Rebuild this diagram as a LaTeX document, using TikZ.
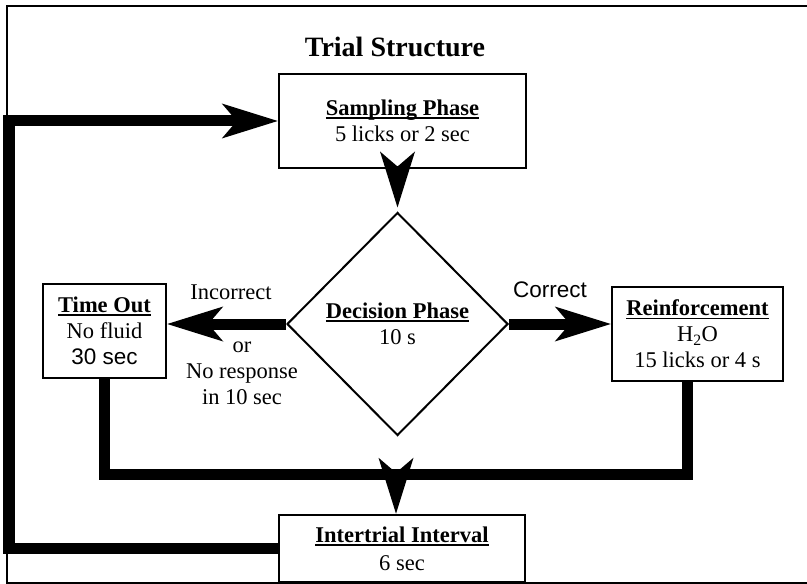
\documentclass[tikz,border=0pt]{standalone}
\usepackage{fontspec}
\setmainfont{Liberation Serif}
\newfontfamily\sansf{Liberation Sans}
\usetikzlibrary{arrows.meta,shapes.geometric}
\newcommand{\myul}[1]{\setbox0=\hbox{#1}\rlap{\rule[-3.5bp]{\wd0}{1.8bp}}\box0}
\begin{document}
\begin{tikzpicture}[x=1bp,y=-1bp,
  txt/.style={font=\fontsize{22.5bp}{26bp}\selectfont, align=center, inner sep=0pt},
  boxnode/.style={txt, draw, line width=2.5bp, rectangle, minimum height=94bp, fill=white},
  fatline/.style={line width=11bp, line join=miter, line cap=butt},
  bigtip/.style={-{Stealth[length=56bp,width=35bp,inset=15bp,line width=0pt]}},
  headonly/.style={line width=1bp, bigtip}]
\useasboundingbox (0,0) rectangle (807,584);
\draw[line width=1.5bp] (7,6) rectangle (812,583);

\node[txt, font=\fontsize{28bp}{30bp}\selectfont\bfseries] (title) at (395,47) {Trial Structure};

\node[boxnode, minimum width=247bp] (samp) at (402.5,121) {\myul{\bfseries Sampling Phase}\\5 licks or 2 sec};
\node[boxnode, minimum width=123bp] (tout) at (104.5,331) {\myul{\bfseries Time Out}\\No fluid\\{\sansf 30 sec}};
\node[boxnode, minimum width=171bp] (reinf) at (697.5,334) {\myul{\bfseries Reinforcement}\\H\textsubscript{2}O\\15 licks or 4 s};
\node[boxnode, minimum width=246bp, minimum height=67bp] (iti) at (402,548.5) {\myul{\bfseries Intertrial Interval}\\[2bp]6 sec};
\node[txt, draw, diamond, aspect=1, line width=2bp, minimum width=221bp, minimum height=223bp] (dec) at (397.5,324) {\myul{\bfseries Decision Phase}\\10 s};

\node[txt] (incl) at (231,292) {Incorrect};
\node[txt] (orl) at (242,373) {or\\No response\\in 10 sec};
\node[txt, font=\sansf\fontsize{22.5bp}{26bp}\selectfont] (corl) at (550,290) {Correct};

% connectors
\draw[headonly] (samp.south -| dec.north) -- ([yshift=4bp]dec.north);
\draw[fatline, bigtip] (dec.west) -- (dec.west -| tout.east);
\draw[fatline, bigtip] (dec.east) -- (dec.east -| reinf.west);

\coordinate (bl) at (104.5,474);
\coordinate (br) at (687,474);
\coordinate (bm) at (396,474);
\draw[fatline] (tout.south) -- (bl) -- (br) -- (br |- reinf.south);
\draw[headonly] (bm) -- (bm |- iti.north);

\coordinate (lb) at (9,548.5);
\coordinate (lt) at (9,121);
\draw[fatline, bigtip] (iti.west) -- (lb) -- (lt) -- (samp.west);
\end{tikzpicture}
\end{document}
